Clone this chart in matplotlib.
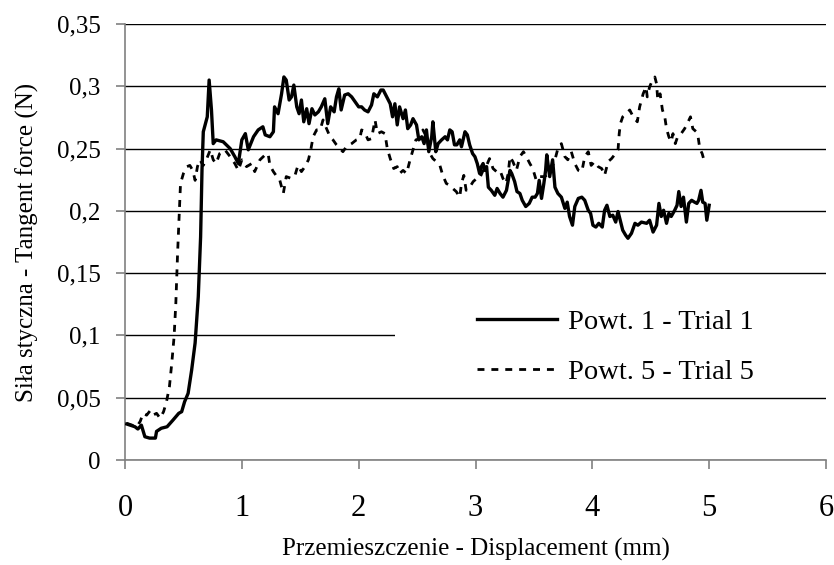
import matplotlib
matplotlib.use("Agg")
import matplotlib.pyplot as plt
from matplotlib.patches import Rectangle

# Trial 1 (solid) - displacement (mm), tangent force (N)
x1 = [0.015, 0.085, 0.11, 0.14, 0.17, 0.21, 0.26, 0.27, 0.31, 0.36, 0.41, 0.46, 0.485,
      0.51, 0.54, 0.57, 0.60, 0.627, 0.647, 0.659, 0.67, 0.704, 0.72, 0.74, 0.755, 0.78,
      0.84, 0.90, 0.94, 0.97, 1.0, 1.03, 1.055, 1.10, 1.14, 1.18, 1.20, 1.24, 1.27, 1.28,
      1.31, 1.34, 1.36, 1.38, 1.405, 1.425, 1.445, 1.47, 1.49, 1.51, 1.53, 1.555, 1.575,
      1.60, 1.625, 1.655, 1.68, 1.71, 1.735, 1.76, 1.79, 1.81, 1.83, 1.85, 1.88, 1.91,
      1.94, 1.97, 2.0, 2.025, 2.05, 2.08, 2.11, 2.13, 2.16, 2.19, 2.21, 2.24, 2.27, 2.29,
      2.31, 2.33, 2.35, 2.38, 2.40, 2.42, 2.445, 2.465, 2.495, 2.515, 2.54, 2.56, 2.58,
      2.60, 2.625, 2.635, 2.66, 2.68, 2.71, 2.74, 2.76, 2.78, 2.80, 2.82, 2.84, 2.865,
      2.88, 2.91, 2.93, 2.95, 2.975, 2.995, 3.015, 3.035, 3.05, 3.065, 3.08, 3.095, 3.11,
      3.135, 3.165, 3.185, 3.21, 3.235, 3.265, 3.295, 3.31, 3.335, 3.355, 3.38, 3.40,
      3.43, 3.46, 3.485, 3.51, 3.53, 3.545, 3.565, 3.585, 3.60, 3.61, 3.635, 3.66, 3.68,
      3.705, 3.735, 3.765, 3.785, 3.805, 3.83, 3.85, 3.88, 3.91, 3.935, 3.965, 3.985,
      4.005, 4.03, 4.055, 4.085, 4.105, 4.125, 4.15, 4.175, 4.20, 4.22, 4.245, 4.26,
      4.285, 4.305, 4.335, 4.365, 4.39, 4.42, 4.465, 4.49, 4.52, 4.55, 4.57, 4.59, 4.61,
      4.635, 4.655, 4.675, 4.705, 4.725, 4.74, 4.76, 4.78, 4.805, 4.825, 4.85, 4.875,
      4.895, 4.91, 4.93, 4.945, 4.965, 4.98, 5.0]
f1 = [0.0289, 0.0267, 0.0249, 0.028, 0.0187, 0.0176, 0.0176, 0.023, 0.0255, 0.0267, 0.032,
      0.0375, 0.0388, 0.0468, 0.0535, 0.072, 0.094, 0.131, 0.179, 0.233, 0.2635, 0.2755,
      0.305, 0.281, 0.254, 0.257, 0.2555, 0.25, 0.2435, 0.238, 0.257, 0.262, 0.249, 0.2595,
      0.265, 0.2675, 0.261, 0.2595, 0.2635, 0.2835, 0.278, 0.294, 0.3075, 0.305, 0.289,
      0.2915, 0.301, 0.2835, 0.278, 0.289, 0.2715, 0.282, 0.270, 0.282, 0.277, 0.2795,
      0.2835, 0.290, 0.270, 0.2835, 0.2795, 0.2915, 0.298, 0.281, 0.293, 0.294, 0.2915,
      0.2875, 0.2835, 0.2835, 0.281, 0.2795, 0.285, 0.294, 0.2915, 0.297, 0.297, 0.2915,
      0.286, 0.2755, 0.286, 0.269, 0.2835, 0.274, 0.281, 0.266, 0.269, 0.274, 0.269, 0.257,
      0.2595, 0.254, 0.265, 0.2475, 0.2595, 0.2715, 0.2475, 0.254, 0.257, 0.2595, 0.257,
      0.265, 0.2635, 0.253, 0.253, 0.257, 0.2515, 0.2635, 0.261, 0.253, 0.246, 0.2435,
      0.238, 0.230, 0.2355, 0.238, 0.2325, 0.2355, 0.219, 0.2165, 0.2125, 0.218, 0.214,
      0.211, 0.2165, 0.2325, 0.230, 0.2235, 0.2155, 0.214, 0.2085, 0.2035, 0.206, 0.211,
      0.211, 0.214, 0.2245, 0.21, 0.222, 0.2325, 0.245, 0.2275, 0.241, 0.219, 0.214, 0.211,
      0.202, 0.207, 0.1955, 0.1885, 0.2035, 0.210, 0.211, 0.2085, 0.2005, 0.198, 0.1885,
      0.187, 0.190, 0.187, 0.2005, 0.2045, 0.1955, 0.1965, 0.191, 0.1995, 0.190, 0.1845,
      0.1805, 0.178, 0.182, 0.190, 0.1885, 0.191, 0.190, 0.1925, 0.183, 0.1885, 0.206,
      0.1955, 0.2005, 0.190, 0.198, 0.1955, 0.2005, 0.2045, 0.2155, 0.2035, 0.211, 0.191,
      0.206, 0.2085, 0.207, 0.206, 0.2085, 0.2165, 0.207, 0.206, 0.1925, 0.2045]

# Trial 5 (dashed)
x5 = [0.015, 0.10, 0.13, 0.155, 0.185, 0.215, 0.24, 0.27, 0.30, 0.33, 0.355, 0.38, 0.40,
      0.42, 0.435, 0.45, 0.465, 0.475, 0.50, 0.53, 0.555, 0.58, 0.60, 0.62, 0.64, 0.67,
      0.70, 0.73, 0.755, 0.78, 0.81, 0.855, 0.90, 0.94, 0.97, 1.0, 1.04, 1.085, 1.11,
      1.155, 1.20, 1.225, 1.24, 1.27, 1.30, 1.325, 1.355, 1.38, 1.425, 1.455, 1.48, 1.51,
      1.54, 1.57, 1.59, 1.61, 1.64, 1.67, 1.695, 1.725, 1.755, 1.78, 1.81, 1.84, 1.865,
      1.895, 1.94, 1.98, 2.01, 2.025, 2.05, 2.08, 2.11, 2.14, 2.16, 2.195, 2.225, 2.245,
      2.27, 2.30, 2.33, 2.35, 2.38, 2.41, 2.44, 2.465, 2.49, 2.52, 2.55, 2.58, 2.61, 2.635,
      2.665, 2.695, 2.72, 2.75, 2.78, 2.805, 2.835, 2.865, 2.88, 2.90, 2.92, 2.95, 2.98,
      3.01, 3.035, 3.065, 3.095, 3.12, 3.15, 3.18, 3.21, 3.235, 3.26, 3.28, 3.295, 3.32,
      3.35, 3.38, 3.41, 3.435, 3.465, 3.49, 3.52, 3.55, 3.59, 3.635, 3.68, 3.705, 3.735,
      3.765, 3.79, 3.82, 3.85, 3.88, 3.91, 3.935, 3.965, 3.99, 4.02, 4.05, 4.08, 4.105,
      4.135, 4.165, 4.19, 4.22, 4.23, 4.24, 4.26, 4.29, 4.32, 4.35, 4.385, 4.405, 4.435,
      4.46, 4.47, 4.49, 4.515, 4.535, 4.55, 4.56, 4.58, 4.60, 4.62, 4.635, 4.655, 4.675,
      4.69, 4.71, 4.73, 4.76, 4.79, 4.82, 4.84, 4.86, 4.89, 4.905, 4.92, 4.94, 4.955, 4.98]
f5 = [0.0295, 0.0267, 0.031, 0.0375, 0.036, 0.0396, 0.036, 0.0375, 0.0335, 0.0388, 0.0468,
      0.0588, 0.0776, 0.099, 0.126, 0.166, 0.2005, 0.222, 0.230, 0.2355, 0.2365, 0.2325,
      0.2245, 0.2355, 0.241, 0.2365, 0.242, 0.249, 0.241, 0.238, 0.246, 0.249, 0.2435,
      0.238, 0.2325, 0.241, 0.2355, 0.238, 0.2315, 0.241, 0.245, 0.246, 0.2365, 0.2315,
      0.2275, 0.2245, 0.214, 0.2275, 0.226, 0.2285, 0.2365, 0.2315, 0.2355, 0.241, 0.249,
      0.2595, 0.265, 0.265, 0.273, 0.266, 0.2595, 0.257, 0.253, 0.250, 0.2475, 0.2515,
      0.254, 0.257, 0.258, 0.265, 0.2635, 0.257, 0.258, 0.273, 0.262, 0.2635, 0.262, 0.250,
      0.242, 0.234, 0.2355, 0.230, 0.2325, 0.230, 0.241, 0.249, 0.257, 0.258, 0.265,
      0.2595, 0.246, 0.242, 0.2395, 0.2365, 0.2285, 0.222, 0.2205, 0.218, 0.2155, 0.211,
      0.222, 0.2285, 0.2165, 0.219, 0.2235, 0.226, 0.226, 0.2325, 0.2365, 0.242, 0.234,
      0.2315, 0.2325, 0.226, 0.222, 0.230, 0.2435, 0.2395, 0.2325, 0.2435, 0.2475, 0.2435,
      0.238, 0.234, 0.2245, 0.2275, 0.2275, 0.230, 0.241, 0.250, 0.254, 0.2435, 0.241,
      0.2475, 0.238, 0.2325, 0.2315, 0.2435, 0.2475, 0.2365, 0.2395, 0.2355, 0.234, 0.2285,
      0.2395, 0.242, 0.245, 0.249, 0.262, 0.270, 0.2755, 0.278, 0.281, 0.2755, 0.2715,
      0.2835, 0.294, 0.2995, 0.2915, 0.2995, 0.305, 0.3075, 0.302, 0.289, 0.294, 0.281,
      0.2755, 0.266, 0.2595, 0.2555, 0.262, 0.254, 0.2595, 0.262, 0.266, 0.2715, 0.2755,
      0.266, 0.2635, 0.2595, 0.250, 0.246, 0.241, 0.242]

labels = ["Powt. 1 - Trial 1", "Powt. 5 - Trial 5"]
yticks = [0, 0.05, 0.1, 0.15, 0.2, 0.25, 0.3, 0.35]
ytick_labels = ["0", "0,05", "0,1", "0,15", "0,2", "0,25", "0,3", "0,35"]
xticks = [0, 1, 2, 3, 4, 5, 6]

plt.rcParams["font.family"] = ["Liberation Serif", "DejaVu Serif"]

fig = plt.figure(figsize=(8.34, 5.65), dpi=100)
ax = fig.add_axes([0.1499, 0.1858, 0.8405, 0.7717])

ax.plot(x1, f1, color="black", lw=2.4, label=labels[0], zorder=3)
ax.plot(x5, f5, color="black", lw=2.0, linestyle=(0, (2.5, 2.5)), label=labels[1], zorder=3)

ax.set_xlim(0, 6)
ax.set_ylim(0, 0.35)
ax.set_yticks(yticks)
ax.set_yticklabels(ytick_labels)
ax.set_xticks(xticks)

ax.grid(axis="y", color="black", lw=1.0)
ax.set_axisbelow(True)
for s in ("top", "right"):
    ax.spines[s].set_visible(False)
for s in ("left", "bottom"):
    ax.spines[s].set_color("#808080")
    ax.spines[s].set_linewidth(1.2)
ax.tick_params(axis="both", direction="out", length=6.5, width=1.2, color="#808080")
ax.tick_params(axis="y", labelsize=18, pad=11)
ax.tick_params(axis="x", labelsize=22, pad=18)

ax.set_xlabel("Przemieszczenie - Displacement (mm)", fontsize=18, labelpad=11)
ax.set_ylabel("Siła styczna - Tangent force (N)", fontsize=18, labelpad=13)

# white background behind the legend, hides part of the 0,1 gridline
ax.add_patch(Rectangle((0.385, 0.17), 0.62, 0.23, transform=ax.transAxes,
                       facecolor="white", edgecolor="none", zorder=1))
leg = ax.legend(loc="center", bbox_to_anchor=(0.70, 0.26), frameon=False,
                fontsize=20.5, handlelength=2.8, handletextpad=0.4, labelspacing=0.85)

fig.savefig("out.png", dpi=100)
